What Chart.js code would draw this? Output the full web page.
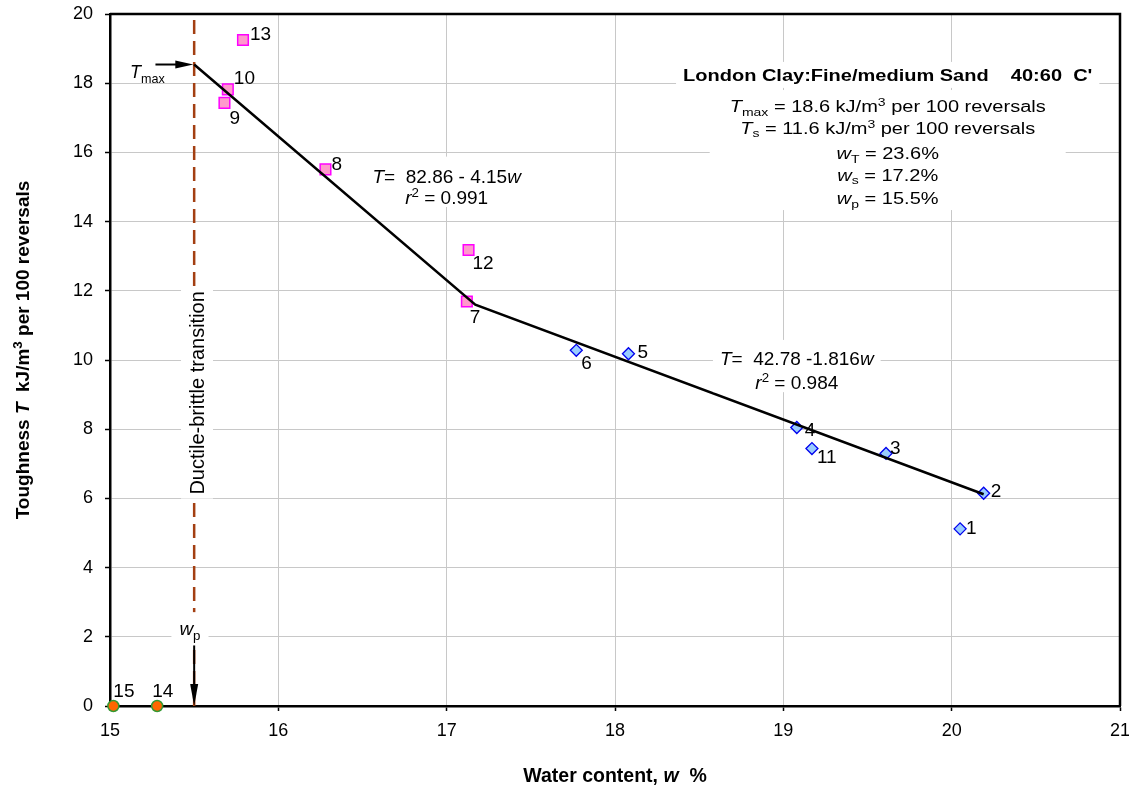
<!DOCTYPE html>
<html>
<head>
<meta charset="utf-8">
<script src="https://cdn.jsdelivr.net/npm/chart.js@4/dist/chart.umd.min.js"></script>
<style>
  html, body { margin: 0; padding: 0; background: #fff; }
</style>
</head>
<body>
<canvas id="canvas" width="1129" height="790"></canvas>
<script>
// sample numbers, water content and toughness
const brittleIds = ['1', '2', '3', '4', '5', '6', '11'];
const brittleW = [20.05, 20.19, 19.61, 19.08, 18.08, 17.77, 19.17];
const brittleT = [5.12, 6.15, 7.30, 8.05, 10.18, 10.28, 7.44];

const ductileIds = ['7', '8', '9', '10', '12', '13'];
const ductileW = [17.12, 16.28, 15.68, 15.70, 17.13, 15.79];
const ductileT = [11.69, 15.51, 17.43, 17.82, 13.18, 19.25];

const zeroIds = ['14', '15'];
const zeroW = [15.28, 15.02];
const zeroT = [0, 0];

// two fitted straight lines (start, break point, end)
const fitW = [15.5, 17.17, 20.19];
const fitT = [18.54, 11.60, 6.12];

const wPlastic = 15.5;
const xTicks = [15, 16, 17, 18, 19, 20, 21];
const yTicks = [0, 2, 4, 6, 8, 10, 12, 14, 16, 18, 20];

const FONT = '"Liberation Sans", Arial, sans-serif';

function pts(xs, ys) {
    return xs.map((x, i) => ({ x: x, y: ys[i] }));
}

// label offsets in px from the marker (left edge, vertical middle)
const labelOffset = {
    '1': [6, -2], '2': [7, -3], '3': [4, -6], '4': [8, 2], '5': [9, -3], '6': [5, 12],
    '7': [3, 15], '8': [6, -6], '9': [5, 14], '10': [6, -12], '11': [5, 8], '12': [4, 12],
    '13': [7, -7], '14': [-5, -16], '15': [0, -16]
};

function runFont(r, size) {
    const s = (r.sub || r.sup) ? size * 0.7 : size;
    return (r.i ? 'italic ' : '') + (r.b ? 'bold ' : '') + s + 'px ' + FONT;
}
function richWidth(ctx, runs, size) {
    let w = 0;
    runs.forEach(r => { ctx.font = runFont(r, size); w += ctx.measureText(r.t).width; });
    return w;
}
// y is the vertical middle of the capitals
function drawRich(ctx, runs, x, y, size, align, stretch) {
    stretch = stretch || 1;
    const w = richWidth(ctx, runs, size);
    ctx.save();
    ctx.translate(x, y);
    ctx.scale(stretch, 1);
    let cx = align === 'center' ? -w / 2 : (align === 'right' ? -w : 0);
    ctx.textAlign = 'left';
    ctx.textBaseline = 'alphabetic';
    ctx.fillStyle = '#000';
    const base = size * 0.36;
    runs.forEach(r => {
        ctx.font = runFont(r, size);
        const dy = r.sub ? size * 0.24 : (r.sup ? -size * 0.36 : 0);
        ctx.fillText(r.t, cx, base + dy);
        cx += ctx.measureText(r.t).width;
    });
    ctx.restore();
    return w * stretch;
}

// text blocks placed in data units
const blocks = [
    { x: 19.62, ys: [18.24], size: 16, stretch: 1.25, padX: 7, padTop: 13, padBottom: 13,
      lines: [[{ t: "London Clay:Fine/medium Sand    40:60  C'", b: 1 }]] },
    { x: 19.62, ys: [17.34, 16.71, 15.98, 15.35, 14.68], size: 16, stretch: 1.25, padX: 20, padTop: 16, padBottom: 12,
      lines: [
          [{ t: 'T', i: 1 }, { t: 'max', sub: 1 }, { t: ' = 18.6 kJ/m' }, { t: '3', sup: 1 }, { t: ' per 100 reversals' }],
          [{ t: 'T', i: 1 }, { t: 's', sub: 1 }, { t: ' = 11.6 kJ/m' }, { t: '3', sup: 1 }, { t: ' per 100 reversals' }],
          [{ t: 'w', i: 1 }, { t: 'T', sub: 1 }, { t: ' = 23.6%' }],
          [{ t: 'w', i: 1 }, { t: 's', sub: 1 }, { t: ' = 17.2%' }],
          [{ t: 'w', i: 1 }, { t: 'p', sub: 1 }, { t: ' = 15.5%' }]
      ] },
    { x: 17.0, ys: [15.3, 14.71], size: 19, stretch: 1, padX: 6, padTop: 20, padBottom: 10,
      lines: [
          [{ t: 'T', i: 1 }, { t: '=  82.86 - 4.15' }, { t: 'w', i: 1 }],
          [{ t: 'r', i: 1 }, { t: '2', sup: 1 }, { t: ' = 0.991' }]
      ] },
    { x: 19.08, ys: [10.06, 9.36], size: 19, stretch: 1, padX: 7, padTop: 18, padBottom: 10,
      lines: [
          [{ t: 'T', i: 1 }, { t: '=  42.78 -1.816' }, { t: 'w', i: 1 }],
          [{ t: 'r', i: 1 }, { t: '2', sup: 1 }, { t: ' = 0.984' }]
      ] },
    { x: 15.475, ys: [2.25], size: 19, stretch: 1, padX: 8, padTop: 16, padBottom: 17,
      lines: [[{ t: 'w', i: 1 }, { t: 'p', sub: 1 }]] }
];

const overlay = {
    id: 'overlay',
    afterDatasetsDraw(chart) {
        const ctx = chart.ctx, xs = chart.scales.x, ys = chart.scales.y, a = chart.chartArea;

        // text blocks with white backgrounds
        blocks.forEach(b => {
            const cx = xs.getPixelForValue(b.x);
            let w = 0;
            b.lines.forEach(l => { w = Math.max(w, richWidth(ctx, l, b.size) * b.stretch); });
            const top = ys.getPixelForValue(b.ys[0]) - b.padTop;
            const bottom = ys.getPixelForValue(b.ys[b.ys.length - 1]) + b.padBottom;
            ctx.fillStyle = '#fff';
            ctx.fillRect(cx - w / 2 - b.padX, top, w + 2 * b.padX, bottom - top);
            b.lines.forEach((l, i) => drawRich(ctx, l, cx, ys.getPixelForValue(b.ys[i]), b.size, 'center', b.stretch));
        });

        // rotated label on the dashed line
        const dx = xs.getPixelForValue(15.517), dy = ys.getPixelForValue(9.05);
        const dRuns = [{ t: 'Ductile-brittle transition' }];
        const dw = richWidth(ctx, dRuns, 20);
        ctx.fillStyle = '#fff';
        ctx.fillRect(dx - 16, dy - dw / 2 - 4, 32, dw + 8);
        ctx.save();
        ctx.translate(dx, dy);
        ctx.rotate(-Math.PI / 2);
        drawRich(ctx, dRuns, 0, 0, 20, 'center');
        ctx.restore();

        // arrows: w_p down to the axis, T_max pointing at the start of the fit
        ctx.strokeStyle = '#000';
        ctx.fillStyle = '#000';
        ctx.lineWidth = 2;
        const ax = xs.getPixelForValue(wPlastic);
        const aTop = ys.getPixelForValue(1.75), aBot = ys.getPixelForValue(0);
        ctx.beginPath(); ctx.moveTo(ax, aTop); ctx.lineTo(ax, aBot - 18); ctx.stroke();
        ctx.beginPath(); ctx.moveTo(ax - 4, aBot - 22); ctx.lineTo(ax + 4, aBot - 22); ctx.lineTo(ax, aBot); ctx.closePath(); ctx.fill();

        const ty = ys.getPixelForValue(fitT[0]);
        const tx0 = xs.getPixelForValue(15.27), tx1 = xs.getPixelForValue(15.495);
        ctx.beginPath(); ctx.moveTo(tx0, ty); ctx.lineTo(tx1 - 14, ty); ctx.stroke();
        ctx.beginPath(); ctx.moveTo(tx1 - 18, ty - 4); ctx.lineTo(tx1 - 18, ty + 4); ctx.lineTo(tx1, ty); ctx.closePath(); ctx.fill();
        drawRich(ctx, [{ t: 'T', i: 1 }, { t: 'max', sub: 1 }], xs.getPixelForValue(15.325), ys.getPixelForValue(18.33), 18, 'right');

        // sample numbers next to the markers
        chart.data.datasets.forEach((ds, di) => {
            if (!ds.ids) return;
            chart.getDatasetMeta(di).data.forEach((el, i) => {
                const id = ds.ids[i];
                const off = labelOffset[id] || [6, 0];
                drawRich(ctx, [{ t: id }], el.x + off[0], el.y + off[1], 19, 'left');
            });
        });

        // frame on top and right
        ctx.strokeStyle = '#000';
        ctx.lineWidth = 2.5;
        ctx.beginPath();
        ctx.moveTo(a.left, a.top); ctx.lineTo(a.right, a.top); ctx.lineTo(a.right, a.bottom);
        ctx.stroke();
    },
    afterDraw(chart) {
        const ctx = chart.ctx, a = chart.chartArea;
        drawRich(ctx, [{ t: 'Water content, ', b: 1 }, { t: 'w', b: 1, i: 1 }, { t: '  %', b: 1 }],
            (a.left + a.right) / 2, 775, 19.5, 'center');
        ctx.save();
        ctx.translate(22, (a.top + a.bottom) / 2 - 10);
        ctx.rotate(-Math.PI / 2);
        drawRich(ctx, [{ t: 'Toughness ', b: 1 }, { t: 'T', b: 1, i: 1 }, { t: '  kJ/m', b: 1 }, { t: '3', b: 1, sup: 1 },
            { t: ' per 100 reversals', b: 1 }], 0, 0, 19, 'center');
        ctx.restore();
    }
};

function create() {
    const data = {
        datasets: [
            {
                label: 'fit',
                data: pts(fitW, fitT),
                showLine: true,
                borderColor: '#000',
                borderWidth: 2.5,
                pointRadius: 0
            },
            {
                label: 'wp',
                data: pts([wPlastic, wPlastic], [0, 20]),
                showLine: true,
                borderColor: '#a33f12',
                borderWidth: 2.5,
                borderDash: [14, 7],
                pointRadius: 0
            },
            {
                label: 'brittle',
                data: pts(brittleW, brittleT),
                ids: brittleIds,
                pointStyle: 'rectRot',
                pointRadius: 6,
                backgroundColor: '#99ccff',
                borderColor: '#0000ee',
                borderWidth: 1.3
            },
            {
                label: 'ductile',
                data: pts(ductileW, ductileT),
                ids: ductileIds,
                pointStyle: 'rect',
                pointRadius: 7.5,
                backgroundColor: '#ff99cc',
                borderColor: '#ff00ff',
                borderWidth: 1.5
            },
            {
                label: 'zero',
                data: pts(zeroW, zeroT),
                ids: zeroIds,
                clip: false,
                pointStyle: 'circle',
                pointRadius: 5.5,
                backgroundColor: '#ff6600',
                borderColor: '#339933',
                borderWidth: 1.5
            }
        ]
    };
    const config = {
        type: 'scatter',
        data: data,
        options: {
            responsive: false,
            animation: false,
            layout: { padding: { top: 14, right: 9, left: 0, bottom: 0 } },
            plugins: { legend: { display: false }, tooltip: { enabled: false } },
            scales: {
                x: {
                    type: 'linear', min: 15, max: 21,
                    afterFit: s => { s.height = 84; s.paddingLeft = 0; s.paddingRight = 0; },
                    afterBuildTicks: s => { s.ticks = xTicks.map(v => ({ value: v })); },
                    grid: { color: '#c8c8c8', lineWidth: 1, tickColor: '#000', tickLength: 5, tickWidth: 1.5 },
                    border: { color: '#000', width: 2.5 },
                    ticks: { color: '#000', padding: 9, font: { family: FONT, size: 18 } }
                },
                y: {
                    type: 'linear', min: 0, max: 20,
                    afterFit: s => { s.width = 110; s.paddingTop = 0; s.paddingBottom = 0; },
                    afterBuildTicks: s => { s.ticks = yTicks.map(v => ({ value: v })); },
                    grid: { color: '#c8c8c8', lineWidth: 1, tickColor: '#000', tickLength: 5, tickWidth: 1.5 },
                    border: { color: '#000', width: 2.5 },
                    ticks: { color: '#000', padding: 12, font: { family: FONT, size: 18 } }
                }
            }
        },
        plugins: [overlay]
    };

    var canvas = document.getElementById("canvas");
    const chart = new Chart(canvas, config);
}
create();
</script>
</body>
</html>
